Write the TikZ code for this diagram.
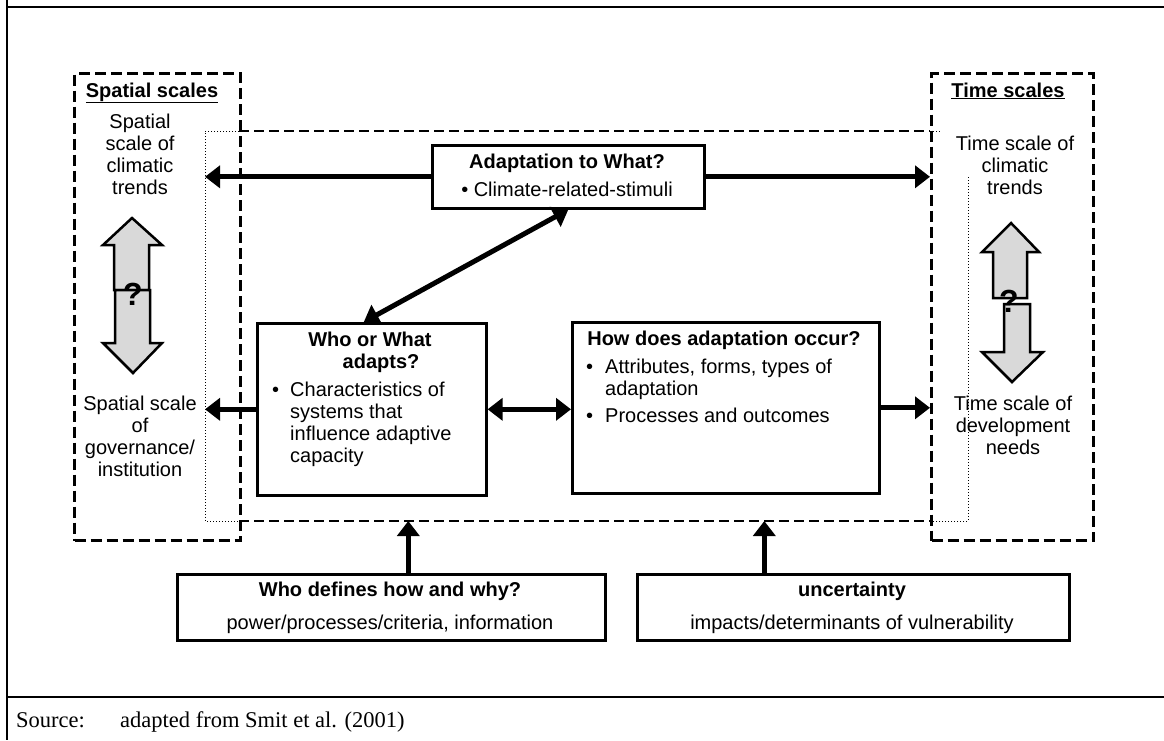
\documentclass[tikz,border=0pt]{standalone}
\usepackage{fontspec}
\setmainfont{Liberation Sans}
\newfontfamily\srcfont{Liberation Serif}
\usetikzlibrary{arrows.meta}
\newcommand\fsz{\fontsize{20}{22}\selectfont}
\newcommand\ctab[1]{\begin{tabular}[t]{@{}c@{}}#1\end{tabular}}
\tikzset{
  frameline/.style={line width=2pt},
  sidebox/.style={draw, line width=3pt, dash pattern=on 11pt off 5pt},
  innerdash/.style={line width=2.6pt, dash pattern=on 10pt off 5pt},
  dotline/.style={line width=1pt, dash pattern=on 1pt off 2pt},
  box/.style={draw, line width=2.6pt, inner sep=0pt, fill=white},
  arr/.style={line width=5pt, -{Triangle[length=15pt,width=22pt]}},
  darr/.style={line width=5pt, {Triangle[length=15pt,width=22pt]}-{Triangle[length=15pt,width=22pt]}},
  blockarrow/.style={draw, line width=2.5pt, fill=gray!30, line join=miter},
  qmark/.style={inner sep=0pt, font=\fontsize{32}{32}\selectfont\bfseries},
  txt/.style={inner sep=0pt, font=\fsz},
  btxt/.style={inner sep=0pt, font=\fsz\bfseries},
  srctxt/.style={anchor=base west, inner sep=0pt, font=\srcfont\fontsize{22.5}{24}\selectfont},
}
\begin{document}
\begin{tikzpicture}[x=1pt,y=-1pt]
\useasboundingbox (0,0) rectangle (1164,740);
% table frame
\draw[frameline] (7,0) -- (7,740);
\draw[frameline] (7,7) -- (1164,7);
\draw[frameline] (7,697) -- (1164,697);

% inner region (dashed / dotted)
\coordinate (spL) at (205,0);
\coordinate (tmL) at (930,0);
\coordinate (inB) at (0,521);
\draw[innerdash] (239,131) -- (930,131);
\draw[innerdash] (239,521) -- (930,521);
\draw[dotline] (239,131) -- (205,131) -- (205,521) -- (239,521);
\draw[dotline] (930,131) -- (942,131);
\draw[dotline] (968,177) -- (968,521) -- (930,521);

% side boxes
\node[sidebox, inner sep=0pt, minimum width=166pt, minimum height=467pt, anchor=north west] (spatial) at (73,72) {};
\node[sidebox, inner sep=0pt, minimum width=162pt, minimum height=467pt, anchor=north west] (time) at (930,72) {};

% spatial contents
\node[btxt, anchor=base] (spTitle) at (152,97) {\underline{Spatial scales}};
\node[txt, anchor=base] (spClim) at (140,128) {\ctab{Spatial\\scale of\\climatic\\trends}};
\draw[blockarrow] (114,290) -- (114,245) -- (103,245) -- (132,218) -- (162,245) -- (149,245) -- (149,290) -- cycle;
\draw[blockarrow] (115,290) -- (115,343) -- (103,343) -- (133,373) -- (162,343) -- (150,343) -- (150,290) -- cycle;
\node[qmark] (spQ) at (133,294) {?};
\node[txt, anchor=base] (spGov) at (140,410) {\ctab{Spatial scale\\of\\governance/\\institution}};

% time contents
\node[btxt, anchor=base] (tmTitle) at (1008,97) {\underline{Time scales}};
\node[txt, anchor=base] (tmClim) at (1015,150) {\ctab{Time scale of\\climatic\\trends}};
\draw[blockarrow] (993,298) -- (993,252) -- (982,252) -- (1011,223) -- (1039,252) -- (1027,252) -- (1027,298) -- cycle;
\draw[blockarrow] (1004,304) -- (1004,352) -- (982,352) -- (1012,382) -- (1043,352) -- (1030,352) -- (1030,304) -- cycle;
\node[qmark] (tmQ) at (1009,301) {?};
\node[txt, anchor=base] (tmDev) at (1013,410) {\ctab{Time scale of\\development\\needs}};

% main boxes
\node[box, minimum width=272pt, minimum height=63pt, anchor=north west] (what) at (431,144) {};
\node[btxt, anchor=base] (whatT) at (567,168) {Adaptation to What?};
\node[txt, anchor=base] (whatL) at (567,196) {• Climate-related-stimuli};

\node[box, minimum width=229pt, minimum height=172pt, anchor=north west] (who) at (256,322) {};
\node[btxt, anchor=base] (whoT) at (370,346) {\ctab{Who or What\\\hspace*{22pt}adapts?}};
\node[txt, anchor=base west] (whoL) at (272,396) {\begin{tabular}[t]{@{}l@{\hspace{11pt}}l@{}}•&Characteristics of\\&systems that\\&influence adaptive\\&capacity\end{tabular}};

\node[box, minimum width=307pt, minimum height=171pt, anchor=north west] (how) at (571,321) {};
\node[btxt, anchor=base] (howT) at (724,345) {How does adaptation occur?};
\node[txt, anchor=base west] (howL) at (586,373) {\begin{tabular}[t]{@{}l@{\hspace{12pt}}l@{}}•&Attributes, forms, types of\\&adaptation\\[5pt]•&Processes and outcomes\end{tabular}};

\node[box, minimum width=428pt, minimum height=66pt, anchor=north west] (def) at (176,573) {};
\node[btxt, anchor=base] (defT) at (390,596) {Who defines how and why?};
\node[txt, anchor=base] (defL) at (390,629) {power/processes/criteria, information};

\node[box, minimum width=432pt, minimum height=66pt, anchor=north west] (unc) at (636,573) {};
\node[btxt, anchor=base] (uncT) at (852,596) {uncertainty};
\node[txt, anchor=base] (uncL) at (852,629) {impacts/determinants of vulnerability};

% connectors
\draw[arr] (what.west) -- (what.west -| spL);
\draw[arr] (what.east) -- (what.east -| tmL);
\draw[darr] (what.south) -- ([xshift=-8pt]who.north);
\draw[arr] (who.west) -- (who.west -| spL);
\draw[darr] (who.east) -- (who.east -| how.west);
\draw[arr] (how.east) -- (how.east -| tmL);
\draw[arr] ([xshift=17pt]def.north) -- ([xshift=17pt]def.north |- inB);
\draw[arr] ([xshift=-89pt]unc.north) -- ([xshift=-89pt]unc.north |- inB);

% source
\node[srctxt] (src) at (16,727) {Source:};
\node[srctxt] (srcText) at (120,727) {adapted from Smit et al. (2001)};
\end{tikzpicture}
\end{document}
